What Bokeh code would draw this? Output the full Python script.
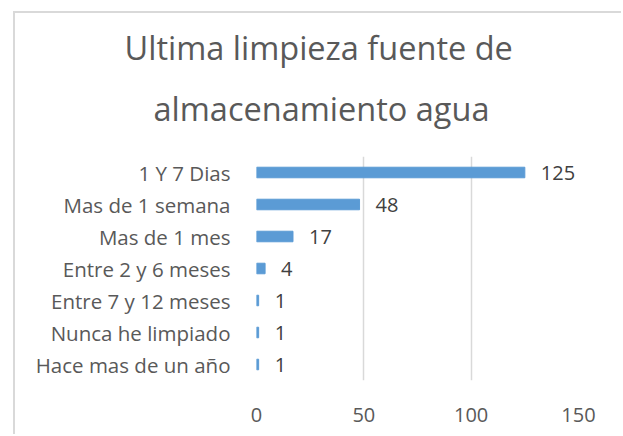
from bokeh.plotting import figure
from bokeh.models import ColumnDataSource, FixedTicker, Title
from bokeh.core.properties import value
from bokeh.embed import file_html
from bokeh.resources import INLINE

categories = ["1 Y 7 Dias", "Mas de 1 semana", "Mas de 1 mes", "Entre 2 y 6 meses",
              "Entre 7 y 12 meses", "Nunca he limpiado", "Hace mas de un año"]
values = [125, 48, 17, 4, 1, 1, 1]
x_ticks = [0, 50, 100, 150]
title_lines = ["Ultima limpieza fuente de", "almacenamiento agua"]

FONT = "Open Sans"
src = ColumnDataSource(dict(cat=categories, val=values, lbl=[str(v) for v in values]))

p = figure(y_range=list(reversed(categories)), x_range=(0, 150),
           output_backend="svg", toolbar_location=None,
           width=608, height=423,
           min_border_left=241, min_border_right=45, min_border_top=143, min_border_bottom=56)
p.margin = (11, 0, 0, 13)
p.styles = {"border-top": "2px solid #d9d9d9", "border-left": "2px solid #d9d9d9"}

p.hbar(y="cat", right="val", left=0, height=0.33, color="#5b9bd5", source=src)

p.text(x="val", y="cat", text="lbl", source=src, x_offset=16,
       text_align="left", text_baseline="middle",
       text_font=value(FONT), text_font_size="20px", text_color="#404040")

p.add_layout(Title(text=title_lines[1], align="left", offset=-103, standoff=52,
                   text_font=FONT, text_font_size="32.5px", text_font_style="normal",
                   text_color="#595959"), "above")
p.add_layout(Title(text=title_lines[0], align="left", offset=-132, standoff=-25,
                   text_font=FONT, text_font_size="32.5px", text_font_style="normal",
                   text_color="#595959"), "above")
p.title.visible = False

p.xaxis.ticker = FixedTicker(ticks=x_ticks)
p.xaxis.axis_line_color = None
p.xaxis.major_tick_line_color = None
p.xaxis.minor_tick_line_color = None
p.xaxis.major_label_standoff = 21
p.xaxis.major_label_text_font = FONT
p.xaxis.major_label_text_font_size = "20px"
p.xaxis.major_label_text_color = "#595959"

p.yaxis.axis_line_color = None
p.yaxis.major_tick_line_color = None
p.yaxis.minor_tick_line_color = None
p.yaxis.major_label_standoff = 20
p.yaxis.major_label_text_font = FONT
p.yaxis.major_label_text_font_size = "20.5px"
p.yaxis.major_label_text_color = "#595959"

p.ygrid.grid_line_color = None
p.xgrid.grid_line_color = "#d9d9d9"
p.xgrid.grid_line_width = 1.5
p.outline_line_color = None
p.background_fill_color = "white"
p.border_fill_color = "white"

open("out.html", "w").write(file_html(p, INLINE))
